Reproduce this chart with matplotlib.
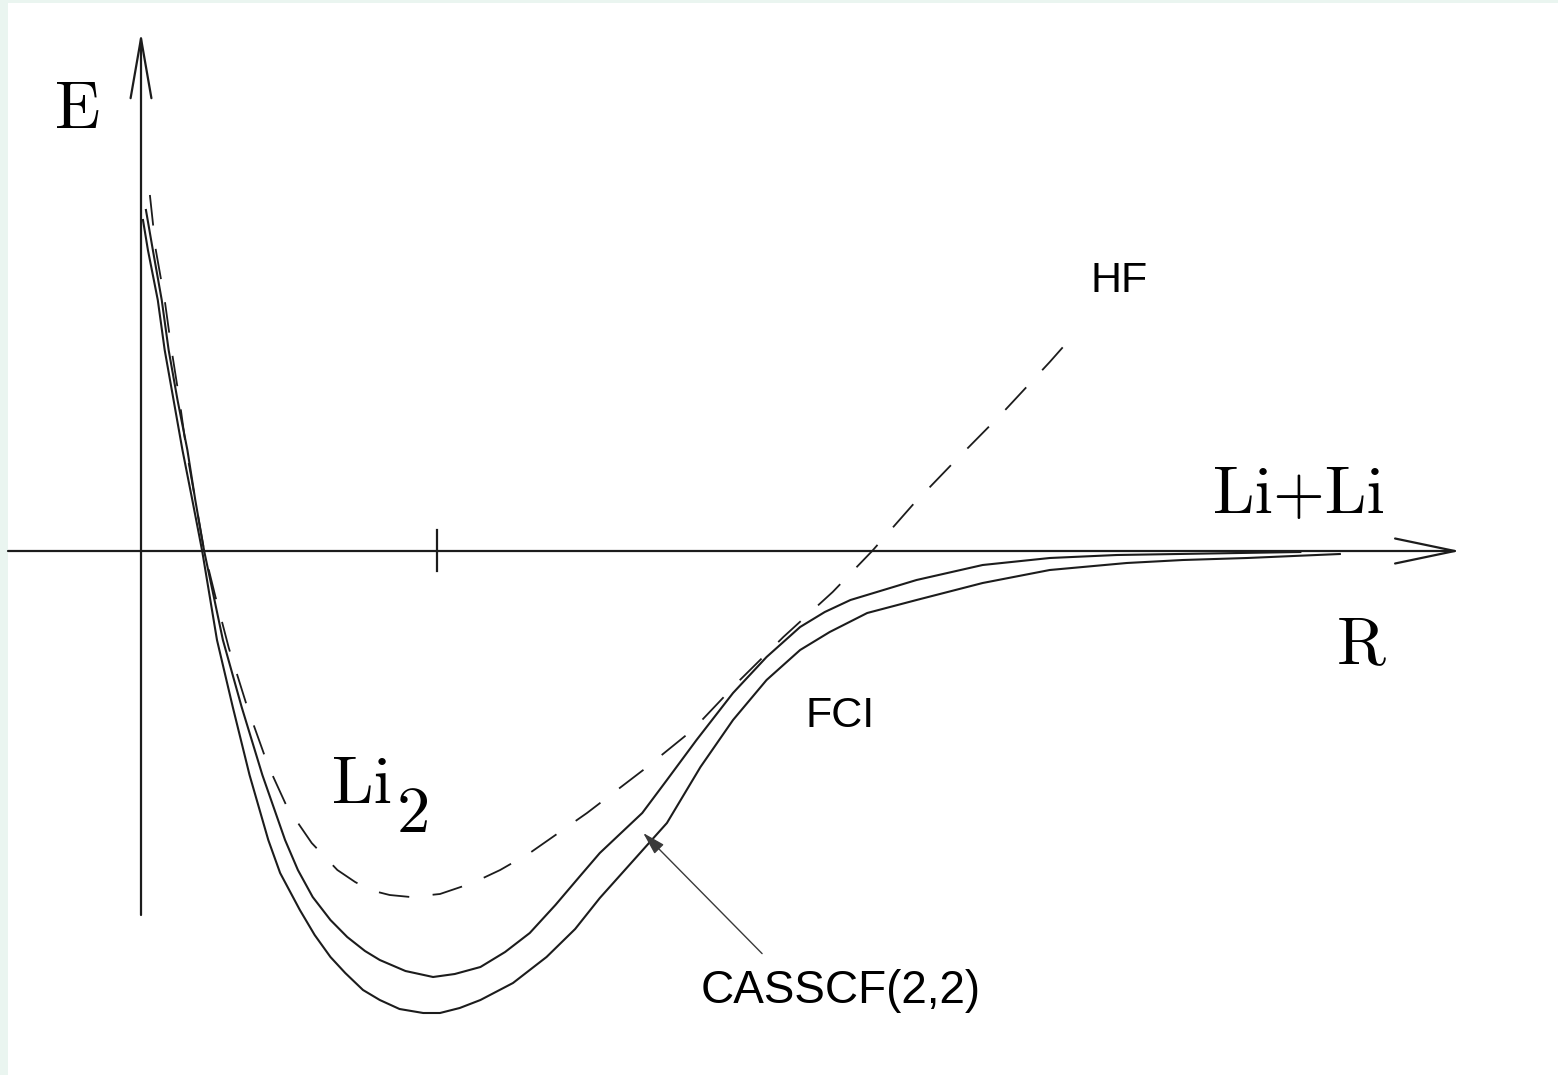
import numpy as np
import matplotlib.pyplot as plt

# potential energy curves of Li2 (arbitrary units)
R_fci = [0.02, 0.07, 0.17, 0.24, 0.33, 0.42, 0.52, 0.62, 0.77, 0.93, 1.10, 1.29, 1.41, 1.61,
         1.76, 1.92, 2.07, 2.25, 2.42, 2.62, 2.86, 3.03, 3.23, 3.44, 3.77, 4.11, 4.40, 4.65,
         5.33, 5.67, 6.00, 6.34, 6.68, 6.98, 7.36, 7.86, 8.53, 9.21, 9.99, 10.56, 11.21, 12.15]
E_fci = [3.31, 3.01, 2.51, 2.01, 1.51, 1.01, 0.51, 0.0, -0.89, -1.56, -2.24, -2.89, -3.22, -3.59,
         -3.84, -4.06, -4.22, -4.39, -4.49, -4.58, -4.62, -4.62, -4.57, -4.49, -4.32, -4.06, -3.78, -3.47,
         -2.72, -2.16, -1.69, -1.29, -0.99, -0.81, -0.62, -0.49, -0.32, -0.19, -0.12, -0.09, -0.07, -0.03]

R_cas = [0.05, 0.12, 0.21, 0.28, 0.37, 0.47, 0.55, 0.64, 0.83, 1.02, 1.23, 1.46, 1.59, 1.74,
         1.92, 2.09, 2.27, 2.42, 2.68, 2.96, 3.18, 3.44, 3.69, 3.94, 4.20, 4.45, 4.65, 5.08,
         5.33, 5.63, 6.00, 6.34, 6.68, 6.93, 7.19, 7.86, 8.53, 9.21, 9.89, 11.75]
E_cas = [3.41, 3.01, 2.51, 2.01, 1.51, 1.01, 0.51, 0.0, -0.89, -1.56, -2.24, -2.89, -3.19, -3.46,
         -3.69, -3.86, -4.00, -4.09, -4.20, -4.26, -4.23, -4.16, -4.01, -3.82, -3.54, -3.25, -3.02, -2.62,
         -2.29, -1.89, -1.42, -1.06, -0.76, -0.61, -0.49, -0.29, -0.14, -0.07, -0.04, -0.01]

R_hf = [0.09, 0.15, 0.24, 0.31, 0.39, 0.46, 0.55, 0.64, 0.75, 0.89, 1.08, 1.29, 1.48, 1.73,
        1.99, 2.17, 2.32, 2.52, 2.73, 3.03, 3.36, 3.64, 3.94, 4.52, 5.09, 5.59, 6.07, 6.51,
        7.01, 7.41, 7.82, 8.23, 8.73, 9.21, 9.47]
E_hf = [3.56, 3.01, 2.51, 2.01, 1.51, 1.01, 0.51, 0.0, -0.44, -0.97, -1.57, -2.15, -2.56, -2.92,
        -3.19, -3.31, -3.39, -3.44, -3.46, -3.43, -3.32, -3.19, -3.02, -2.62, -2.19, -1.79, -1.29, -0.86,
        -0.41, 0.0, 0.46, 0.88, 1.38, 1.89, 2.18]

R_tick = 3.0

W, H = 1558, 1075
fig = plt.figure(figsize=(W / 100, H / 100), dpi=100, facecolor='#eaf5f0')
ax = fig.add_axes([8 / W, 0, 1 - 8 / W, 1 - 3 / H])
ax.set_facecolor('white')
ax.set_xlim(-1.348, 14.361)
ax.set_ylim(-5.24, 5.48)
ax.set_xticks([])
ax.set_yticks([])
for s in ax.spines.values():
    s.set_visible(False)

ink = '#1c1c1c'

# axes with open arrow heads
ax.annotate('', xy=(13.37, 0), xytext=(-1.348, 0),
            arrowprops=dict(arrowstyle='->,head_length=43,head_width=9', mutation_scale=1,
                            lw=1.6, color=ink, shrinkA=0, shrinkB=0))
ax.annotate('', xy=(0, 5.19), xytext=(0, -3.64),
            arrowprops=dict(arrowstyle='->,head_length=43,head_width=7.5', mutation_scale=1,
                            lw=1.6, color=ink, shrinkA=0, shrinkB=0))
ax.plot([R_tick, R_tick], [-0.20, 0.21], color=ink, lw=1.6)

# curves
ax.plot(R_fci, E_fci, color=ink, lw=1.5, solid_joinstyle='round')
ax.plot(R_cas, E_cas, color=ink, lw=1.5, solid_joinstyle='round')
ax.plot(R_hf, E_hf, color=ink, lw=1.3, ls=(0, (17, 13)))

# labels
serif = dict(family='cmr10', fontsize=48, color='black')
ax.text(-0.64, 4.23, 'E', ha='center', va='baseline', **serif)
ax.text(10.86, 0.38, 'Li+Li', ha='left', va='baseline', **serif)
ax.text(12.12, -1.12, 'R', ha='left', va='baseline', **serif)
ax.text(1.94, -2.52, 'Li', ha='left', va='baseline', **serif)
ax.text(2.59, -2.81, '2', ha='left', va='baseline', **serif)

sans = dict(family='Liberation Sans', color='black')
ax.text(9.62, 2.59, 'HF', ha='left', va='baseline', fontsize=31, **sans)
ax.text(6.73, -1.76, 'FCI', ha='left', va='baseline', fontsize=31, **sans)
ax.annotate('CASSCF(2,2)', xy=(5.09, -2.82), xytext=(5.67, -4.52),
            ha='left', va='baseline', fontsize=33, **sans,
            arrowprops=dict(arrowstyle='-|>,head_length=14,head_width=4', mutation_scale=1,
                            lw=1.0, color='#3a3a3a', shrinkA=0, shrinkB=0,
                            relpos=(0.22, 1.35)))

fig.savefig('out.png', dpi=100, facecolor=fig.get_facecolor())
